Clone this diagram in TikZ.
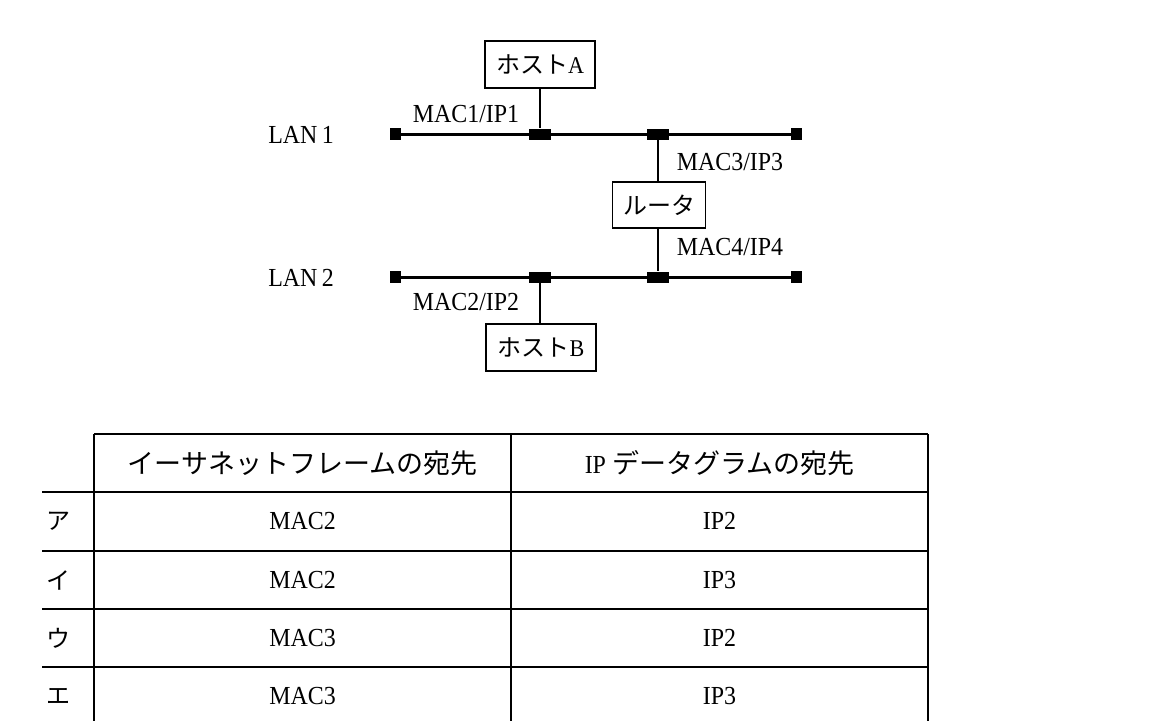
\documentclass[tikz,border=0pt]{standalone}
\usepackage{fontspec}
\setmainfont{Liberation Serif}[FakeStretch=0.92]
\newfontfamily\jp{Noto Sans CJK JP}
\begin{document}
\begin{tikzpicture}[x=1pt,y=-1pt,
  lat/.style={font=\fontsize{26}{30}\selectfont, inner sep=0pt},
  jpt/.style={font=\fontsize{24}{28}\selectfont\jp, inner sep=0pt},
  hdr/.style={font=\fontsize{27}{30}\selectfont\jp, inner sep=0pt},
  box/.style={draw, line width=1.6pt, minimum width=110pt, minimum height=47pt, inner sep=0pt, font=\fontsize{24}{28}\selectfont},
  term/.style={fill=black, minimum width=11pt, minimum height=12pt, inner sep=0pt},
  junc/.style={fill=black, minimum width=22pt, minimum height=11pt, inner sep=0pt},
  lan/.style={line width=3pt},
  wire/.style={line width=1.6pt},
  grid/.style={line width=2pt}
]
\useasboundingbox (0,0) rectangle (1150,720);

% LAN 1
\node[term] (l1a) at (395,134) {};
\node[junc] (j1a) at (540,134) {};
\node[junc] (j1r) at (658,134) {};
\node[term] (l1b) at (796,134) {};
\draw[lan] (l1a.center) -- (j1a) -- (j1r) -- (l1b.center);

% LAN 2
\node[term] (l2a) at (395,277) {};
\node[junc] (j2b) at (540,277) {};
\node[junc] (j2r) at (658,277) {};
\node[term] (l2b) at (796,277) {};
\draw[lan] (l2a.center) -- (j2b) -- (j2r) -- (l2b.center);

% boxes
\node[box] (hostA) at (540,64.5) {{\jp ホスト}A};
\node[box, minimum width=93pt, minimum height=46pt] (router) at (659,205) {\jp ルータ};
\node[box] (hostB) at (541,347.5) {{\jp ホスト}B};

\draw[wire] (hostA.south -| j1a) -- (j1a.north);
\draw[wire] (j1r.south) -- (router.north -| j1r);
\draw[wire] (router.south -| j2r) -- (j2r.north);
\draw[wire] (j2b.south) -- (hostB.north -| j2b);

% labels
\node[lat, anchor=base] (lan1) at (301,143) {LAN\,1};
\node[lat, anchor=base] (lan2) at (301,286) {LAN\,2};
\node[lat, anchor=base] (m1) at (466,122) {MAC1/IP1};
\node[lat, anchor=base] (m3) at (730,170) {MAC3/IP3};
\node[lat, anchor=base] (m4) at (730,255) {MAC4/IP4};
\node[lat, anchor=base] (m2) at (466,310) {MAC2/IP2};

% table
\draw[grid] (94,434) -- (928,434);
\foreach \y in {492,550.5,609,667} \draw[grid] (42,\y) -- (928,\y);
\foreach \x in {94,511,928} \draw[grid] (\x,434) -- (\x,722);

\node[hdr] (h1) at (302.5,463) {イーサネットフレームの宛先};
\node[hdr] (h2) at (719.5,463) {{\fontsize{26}{30}\selectfont\rmfamily IP} データグラムの宛先};

\node[jpt] (ra) at (58,521) {ア};
\node[jpt] (ri) at (58,580) {イ};
\node[jpt] (ru) at (58,638) {ウ};
\node[jpt] (re) at (58,696) {エ};

\node[lat] (a1) at (302.5,521) {MAC2};
\node[lat] (a2) at (719.5,521) {IP2};
\node[lat] (i1) at (302.5,580) {MAC2};
\node[lat] (i2) at (719.5,580) {IP3};
\node[lat] (u1) at (302.5,638) {MAC3};
\node[lat] (u2) at (719.5,638) {IP2};
\node[lat] (e1) at (302.5,696) {MAC3};
\node[lat] (e2) at (719.5,696) {IP3};
\end{tikzpicture}
\end{document}
